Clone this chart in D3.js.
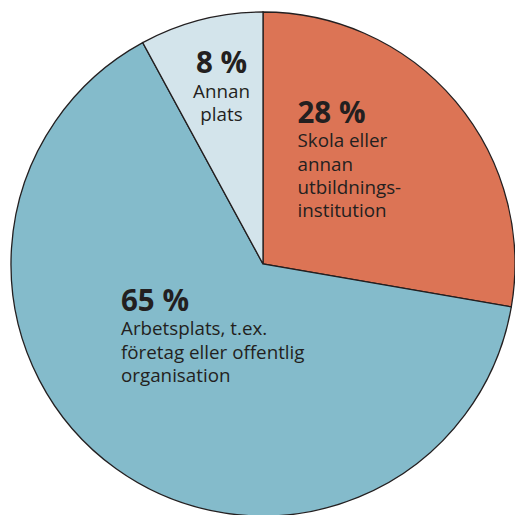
<!DOCTYPE html>
<html><head><meta charset="utf-8">
<script src="https://cdn.jsdelivr.net/npm/d3@7"></script>
<style>html,body{margin:0;padding:0;background:#fff;}svg{display:block;}</style>
</head><body>
<svg id="chart" width="515" height="515"></svg>
<script>
const categories = ["Skola eller annan utbildningsinstitution", "Arbetsplats, t.ex. företag eller offentlig organisation", "Annan plats"];
const values = [28, 65, 8];
const percentLabels = ["28 %", "65 %", "8 %"];
const labelLines = [
  ["Skola eller", "annan", "utbildnings-", "institution"],
  ["Arbetsplats, t.ex.", "företag eller offentlig", "organisation"],
  ["Annan", "plats"]
];
const colors = ["#dc7455", "#84bbcb", "#d3e4eb"];

const svg = d3.select("#chart");
const cx = 263, cy = 264, r = 252;
const g = svg.append("g").attr("transform", `translate(${cx},${cy})`);
const pie = d3.pie().sort(null).value(d => d)(values);
const arc = d3.arc().innerRadius(0).outerRadius(r);
g.selectAll("path").data(pie).join("path")
  .attr("d", arc).attr("fill", (d, i) => colors[i])
  .attr("stroke", "#231f20").attr("stroke-width", 1.3);

const pos = [
  {x: 297.5, y: 122.7, anchor: "start"},
  {x: 121, y: 310.7, anchor: "start"},
  {x: 221.5, y: 73, anchor: "middle"}
];
const font = "'Open Sans', sans-serif";
const lh = 23.4;
pos.forEach((p, i) => {
  const t = svg.append("text").attr("x", p.x).attr("y", p.y)
    .attr("text-anchor", p.anchor).attr("fill", "#231f20")
    .attr("font-family", font);
  t.append("tspan").attr("x", p.x).attr("y", p.y)
    .attr("font-weight", "bold").attr("font-size", 29.5).text(percentLabels[i]);
  labelLines[i].forEach((line, j) => {
    t.append("tspan").attr("x", p.x).attr("y", p.y + 24.5 + j * lh)
      .attr("font-size", 18.8).text(line);
  });
});
</script>
</body></html>
